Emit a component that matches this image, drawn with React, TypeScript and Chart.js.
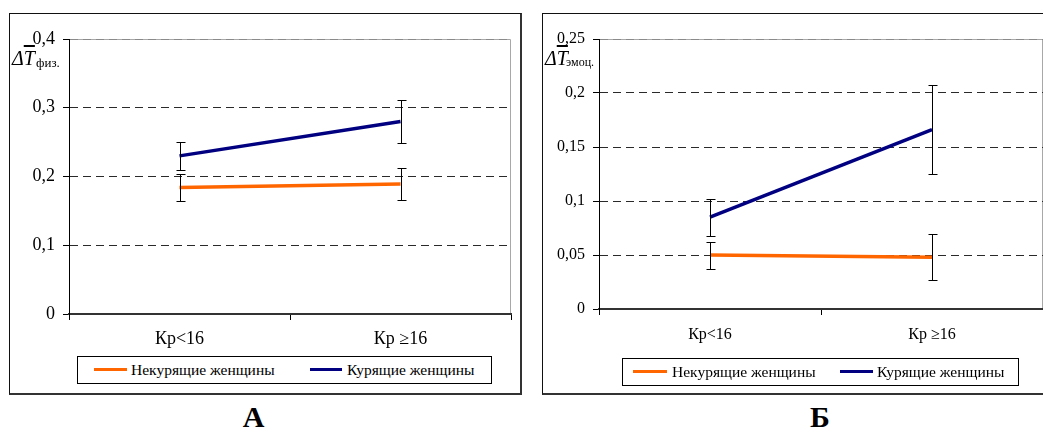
import React, { useEffect, useRef } from 'react';
import { Chart, registerables } from 'chart.js';

Chart.register(...registerables);

// ---------- data ----------
const categories = ['Кр<16', 'Кр ≥16'];
const seriesNames = ['Некурящие женщины', 'Курящие женщины'];
const seriesColors = ['#FF6600', '#000080'];

const nonSmokersA = [0.184, 0.189];
const nonSmokersErrA = [0.02, 0.023];
const smokersA = [0.23, 0.28];
const smokersErrA = [0.02, 0.031];
const yTicksA = [0, 0.1, 0.2, 0.3, 0.4];

const nonSmokersB = [0.05, 0.048];
const nonSmokersErrB = [0.0125, 0.021];
const smokersB = [0.085, 0.166];
const smokersErrB = [0.017, 0.041];
const yTicksB = [0, 0.05, 0.1, 0.15, 0.2, 0.25];

const FONT = "'Liberation Serif', 'Times New Roman', serif";

const fmt = (v: number) => String(Math.round(v * 1000) / 1000).replace('.', ',');

const errorBarPlugin = {
  id: 'errorBars',
  afterDatasetsDraw(chart: any, _args: any, opts: any) {
    const { ctx } = chart;
    const y = chart.scales.y;
    const errs: number[][] = (opts && opts.errors) || [];
    chart.data.datasets.forEach((ds: any, di: number) => {
      const meta = chart.getDatasetMeta(di);
      const e = errs[di] || [];
      meta.data.forEach((pt: any, i: number) => {
        const v = ds.data[i] as number;
        const err = e[i];
        if (err == null) return;
        const x = Math.round(pt.x) + 0.5;
        const yt = Math.round(y.getPixelForValue(v + err)) + 0.5;
        const yb = Math.round(y.getPixelForValue(v - err)) + 0.5;
        ctx.save();
        ctx.strokeStyle = '#000';
        ctx.lineWidth = 1;
        ctx.beginPath();
        ctx.moveTo(x, yt);
        ctx.lineTo(x, yb);
        ctx.moveTo(x - 4, yt);
        ctx.lineTo(x + 5, yt);
        ctx.moveTo(x - 4, yb);
        ctx.lineTo(x + 5, yb);
        ctx.stroke();
        ctx.restore();
      });
    });
  },
};

const plotBorderPlugin = {
  id: 'plotBorder',
  beforeDraw(chart: any) {
    const { ctx, chartArea } = chart;
    const { left, top, right, bottom } = chartArea;
    ctx.save();
    ctx.strokeStyle = '#a8a8a8';
    ctx.lineWidth = 1;
    ctx.beginPath();
    ctx.moveTo(left, Math.round(top) + 0.5);
    ctx.lineTo(Math.round(right) - 0.5, Math.round(top) + 0.5);
    ctx.lineTo(Math.round(right) - 0.5, bottom);
    ctx.stroke();
    ctx.restore();
  },
};

interface PanelCfg {
  nonSmokers: number[];
  nonSmokersErr: number[];
  smokers: number[];
  smokersErr: number[];
  yTicks: number[];
  fontSize: number;
  yWidth: number;
  xHeight: number;
  xPad: number;
  padding: { left: number; top: number; right: number; bottom: number };
}

function ChartCanvas({ cfg, style, w, h }: { cfg: PanelCfg; style: React.CSSProperties; w: number; h: number }) {
  const ref = useRef<HTMLCanvasElement | null>(null);
  useEffect(() => {
    if (!ref.current) return;
    const max = cfg.yTicks[cfg.yTicks.length - 1];
    const chart = new Chart(ref.current, {
      type: 'line',
      data: {
        labels: categories,
        datasets: [
          {
            label: seriesNames[0],
            data: cfg.nonSmokers,
            borderColor: seriesColors[0],
            backgroundColor: seriesColors[0],
            borderWidth: 3.5,
            pointRadius: 0,
            tension: 0,
          },
          {
            label: seriesNames[1],
            data: cfg.smokers,
            borderColor: seriesColors[1],
            backgroundColor: seriesColors[1],
            borderWidth: 3.5,
            pointRadius: 0,
            tension: 0,
          },
        ],
      },
      options: {
        responsive: false,
        animation: false,
        devicePixelRatio: 1,
        layout: { padding: cfg.padding },
        plugins: {
          legend: { display: false },
          tooltip: { enabled: false },
          title: { display: false },
          // @ts-ignore
          errorBars: { errors: [cfg.nonSmokersErr, cfg.smokersErr] },
        },
        scales: {
          x: {
            type: 'category',
            offset: true,
            afterFit: (s: any) => {
              s.height = cfg.xHeight;
            },
            grid: {
              offset: true,
              drawOnChartArea: false,
              drawTicks: true,
              tickLength: 6,
              tickColor: '#000',
              tickWidth: 1,
              color: '#000',
            },
            border: { display: true, color: '#333', width: 2 },
            ticks: {
              color: '#000',
              padding: cfg.xPad,
              font: { family: FONT, size: cfg.fontSize },
              maxRotation: 0,
              autoSkip: false,
            },
          },
          y: {
            type: 'linear',
            min: 0,
            max,
            afterFit: (s: any) => {
              s.width = cfg.yWidth;
            },
            afterBuildTicks: (s: any) => {
              s.ticks = cfg.yTicks.map((v) => ({ value: v }));
            },
            grid: {
              drawOnChartArea: true,
              drawTicks: true,
              tickLength: 6,
              tickColor: '#000',
              tickWidth: 1,
              tickBorderDash: [],
              lineWidth: 1,
              color: (c: any) => {
                const v = c.tick ? c.tick.value : 0;
                if (v === 0) return 'rgba(0,0,0,0)';
                if (v === max) return '#8a8a8a';
                return '#2a2a2a';
              },
            },
            border: { display: true, color: '#000', width: 1, dash: [8, 5] },
            ticks: {
              color: '#000',
              padding: 8,
              font: { family: FONT, size: cfg.fontSize },
              autoSkip: false,
              callback: (v: any) => fmt(Number(v)),
            },
          },
        },
      },
      plugins: [plotBorderPlugin, errorBarPlugin],
    } as any);
    return () => chart.destroy();
  }, [cfg]);
  return <canvas ref={ref} width={w} height={h} style={{ position: 'absolute', width: w, height: h, ...style }} />;
}

const cfgA: PanelCfg = {
  nonSmokers: nonSmokersA,
  nonSmokersErr: nonSmokersErrA,
  smokers: smokersA,
  smokersErr: smokersErrA,
  yTicks: yTicksA,
  fontSize: 18,
  yWidth: 59,
  xHeight: 40,
  xPad: 8,
  padding: { left: 0, top: 25, right: 9, bottom: 38 },
};

const cfgB: PanelCfg = {
  nonSmokers: nonSmokersB,
  nonSmokersErr: nonSmokersErrB,
  smokers: smokersB,
  smokersErr: smokersErrB,
  yTicks: yTicksB,
  fontSize: 16,
  yWidth: 56,
  xHeight: 40,
  xPad: 10,
  padding: { left: 0, top: 25, right: 10, bottom: 43 },
};

function Legend({ left, top, width, offs }: { left: number; top: number; width: number; offs: number[] }) {
  const item = (i: number, lineLeft: number, lineW: number, textLeft: number) => (
    <React.Fragment key={i}>
      <div
        style={{
          position: 'absolute',
          left: lineLeft,
          top: 11,
          width: lineW,
          height: 3,
          background: seriesColors[i],
        }}
      />
      <div
        style={{
          position: 'absolute',
          left: textLeft,
          top: 0,
          height: 26,
          lineHeight: '26px',
          fontFamily: FONT,
          fontSize: 15.5,
          color: '#000',
          whiteSpace: 'nowrap',
        }}
      >
        {seriesNames[i]}
      </div>
    </React.Fragment>
  );
  return (
    <div
      style={{
        position: 'absolute',
        left,
        top,
        width,
        height: 28,
        boxSizing: 'border-box',
        border: '1px solid #000',
        background: '#fff',
      }}
    >
      {item(0, offs[0], offs[1], offs[2])}
      {item(1, offs[3], offs[4], offs[5])}
    </div>
  );
}

function AxisTitle({ left, base, subLeft, subBase, sub, subSize }: { left: number; base: number; subLeft: number; subBase: number; sub: string; subSize: number }) {
  const S = 20;
  return (
    <>
      <div
        style={{
          position: 'absolute',
          left,
          top: base - 0.8375 * S,
          fontFamily: FONT,
          fontStyle: 'italic',
          fontSize: S,
          lineHeight: `${S}px`,
          color: '#000',
          whiteSpace: 'nowrap',
        }}
      >
        Δ<span style={{ textDecoration: 'overline' }}>T</span>
      </div>
      <div
        style={{
          position: 'absolute',
          left: subLeft,
          top: subBase - 0.8375 * subSize,
          fontFamily: FONT,
          fontSize: subSize,
          lineHeight: `${subSize}px`,
          color: '#000',
          whiteSpace: 'nowrap',
        }}
      >
        {sub}
      </div>
    </>
  );
}

function Letter({ center, text }: { center: number; text: string }) {
  const S = 30;
  return (
    <div
      style={{
        position: 'absolute',
        left: center - 30,
        width: 60,
        textAlign: 'center',
        top: 427 - 0.8375 * S,
        fontFamily: FONT,
        fontWeight: 'bold',
        fontSize: S,
        lineHeight: `${S}px`,
        color: '#000',
      }}
    >
      {text}
    </div>
  );
}

export default function App() {
  return (
    <div
      style={{
        position: 'absolute',
        left: 0,
        top: 0,
        width: 1043,
        height: 431,
        overflow: 'hidden',
        background: '#fff',
      }}
    >
      {/* frames */}
      <div
        style={{
          position: 'absolute',
          left: 9,
          top: 13,
          width: 513,
          height: 382,
          boxSizing: 'border-box',
          borderTop: '1px solid #111',
          borderLeft: '1px solid #111',
          borderRight: '2px solid #333',
          borderBottom: '2px solid #333',
        }}
      />
      <div
        style={{
          position: 'absolute',
          left: 542,
          top: 13,
          width: 520,
          height: 382,
          boxSizing: 'border-box',
          borderTop: '1px solid #111',
          borderLeft: '1px solid #111',
          borderRight: '2px solid #333',
          borderBottom: '2px solid #333',
        }}
      />

      <ChartCanvas cfg={cfgA} w={510} h={378} style={{ left: 10, top: 14 }} />
      <ChartCanvas cfg={cfgB} w={510} h={378} style={{ left: 543, top: 14 }} />

      <AxisTitle left={12} base={65} subLeft={36} subBase={67} sub="физ." subSize={13} />
      <AxisTitle left={545} base={65} subLeft={566} subBase={66} sub="эмоц." subSize={12} />

      <Legend left={77} top={356} width={415} offs={[16, 33, 53, 232, 32, 269]} />
      <Legend left={622} top={358} width={397} offs={[10, 34, 49, 217, 33, 254]} />

      <Letter center={253.5} text="А" />
      <Letter center={820} text="Б" />
    </div>
  );
}
